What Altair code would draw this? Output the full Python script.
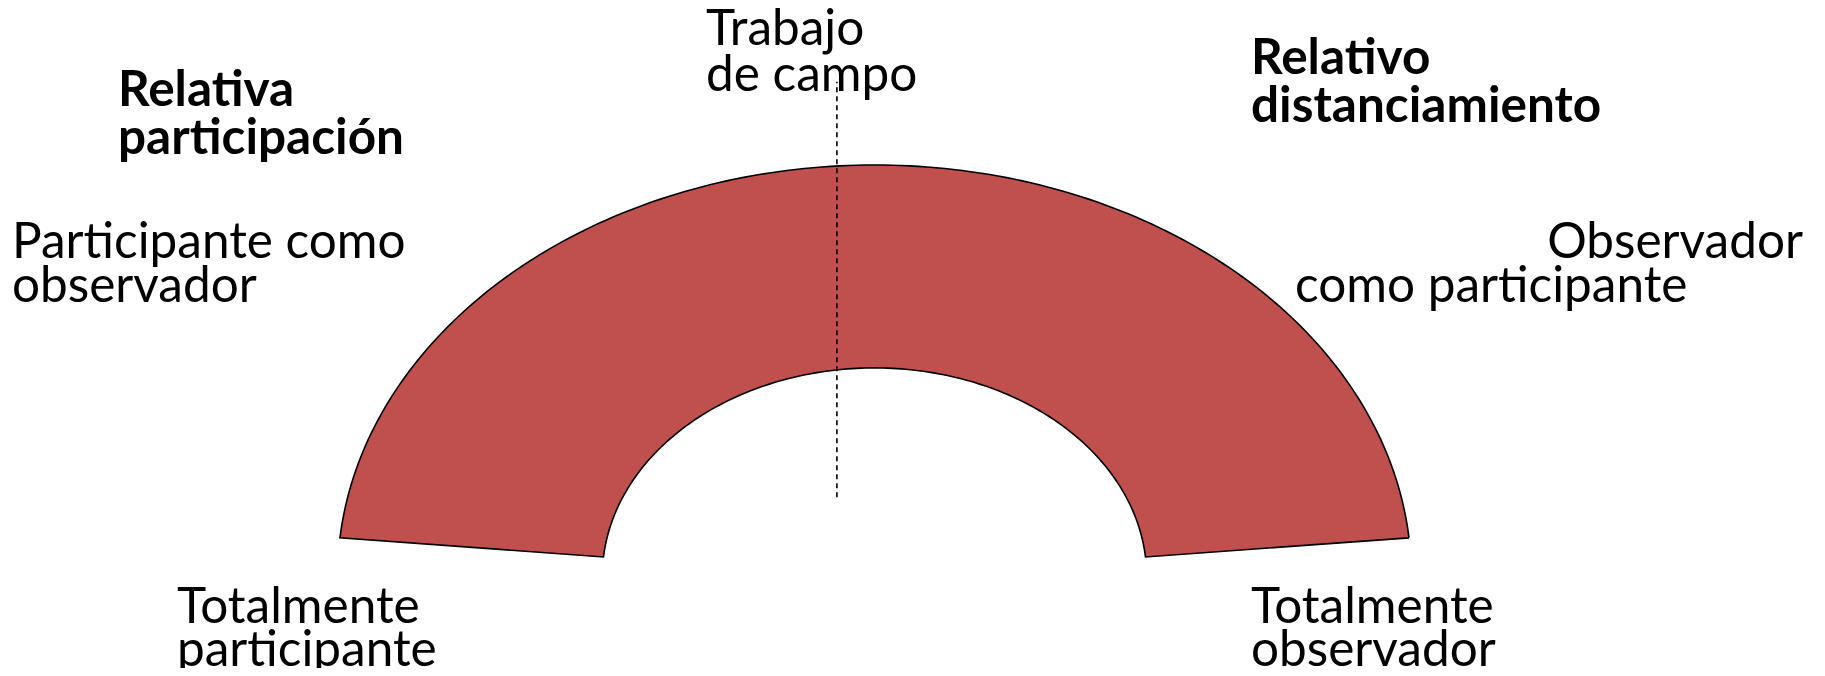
import numpy as np
import pandas as pd
import altair as alt

# ---- data --------------------------------------------------------------
# the continuum is drawn as a block arc (a half ring) in "circle units"
ARC_START_DEG = 5.4      # angle of the right end of the band (deg, above horizontal)
ARC_END_DEG = 174.6      # angle of the left end of the band
OUTER_R = 1.0
INNER_R = 0.507

# dashed "trabajo de campo" marker
FIELD_X = -0.07
FIELD_Y = [0.193, 1.202]

# labels
top_label = "Trabajo\nde campo"
head_left = "Relativa\nparticipación"
head_right = "Relativo\ndistanciamiento"
role_upper_left = "Participante como\nobservador"
role_upper_right_1 = "Observador"
role_upper_right_2 = "como participante"
role_lower_left = "Totalmente\nparticipante"
role_lower_right = "Totalmente\nobservador"

# ---- geometry of the band (polygon) -------------------------------------
n = 181
ang_out = np.radians(np.linspace(ARC_START_DEG, ARC_END_DEG, n))
ang_in = ang_out[::-1]
xs = np.concatenate([OUTER_R * np.cos(ang_out), INNER_R * np.cos(ang_in), [OUTER_R * np.cos(ang_out[0])]])
ys = np.concatenate([OUTER_R * np.sin(ang_out), INNER_R * np.sin(ang_in), [OUTER_R * np.sin(ang_out[0])]])
band = pd.DataFrame({"x": xs, "y": ys, "i": np.arange(len(xs))})

rule_df = pd.DataFrame({"x": [FIELD_X], "y": [FIELD_Y[0]], "y2": [FIELD_Y[1]]})

W, H = 1809, 660
xscale = alt.Scale(domain=[-1.6139, 1.7555], nice=False, zero=False)
yscale = alt.Scale(domain=[-0.2221, 1.3814], nice=False, zero=False)

FONT = "Lato"
FS = 49.5

band_chart = alt.Chart(band).mark_line(
    fill="#C0504D", stroke="black", strokeWidth=1.6, interpolate="linear"
).encode(
    x=alt.X("x:Q", scale=xscale, axis=None),
    y=alt.Y("y:Q", scale=yscale, axis=None),
    order="i:Q",
)

rule_chart = alt.Chart(rule_df).mark_rule(
    color="black", strokeWidth=1.6, strokeDash=[5, 4]
).encode(
    x=alt.X("x:Q", scale=xscale, axis=None),
    y=alt.Y("y:Q", scale=yscale, axis=None),
    y2="y2:Q",
)


def label(text, px, py, bold=False, align="left", lh=45):
    return alt.Chart(pd.DataFrame({"t": [text]})).mark_text(
        font=FONT, fontSize=FS, lineHeight=lh, align=align, baseline="alphabetic",
        fontWeight="bold" if bold else "normal", color="black", lineBreak="\n",
    ).encode(x=alt.value(px - 8), y=alt.value(py - 8), text="t:N")


layers = [
    band_chart,
    rule_chart,
    label(top_label, 706, 45, lh=46),
    label(head_left, 118, 106, bold=True, lh=48),
    label(head_right, 1251, 74, bold=True, lh=48),
    label(role_upper_left, 12, 258, lh=44),
    label(role_upper_right_1, 1803, 258, align="right"),
    label(role_upper_right_2, 1295, 302),
    label(role_lower_left, 177, 623, lh=43),
    label(role_lower_right, 1251, 623, lh=43),
]

chart = alt.layer(*layers).properties(
    width=W, height=H, padding=0, autosize=alt.AutoSizeParams(type="none")
).configure_view(stroke=None)

chart.save("out.html", embed_options={"renderer": "svg", "actions": False})
